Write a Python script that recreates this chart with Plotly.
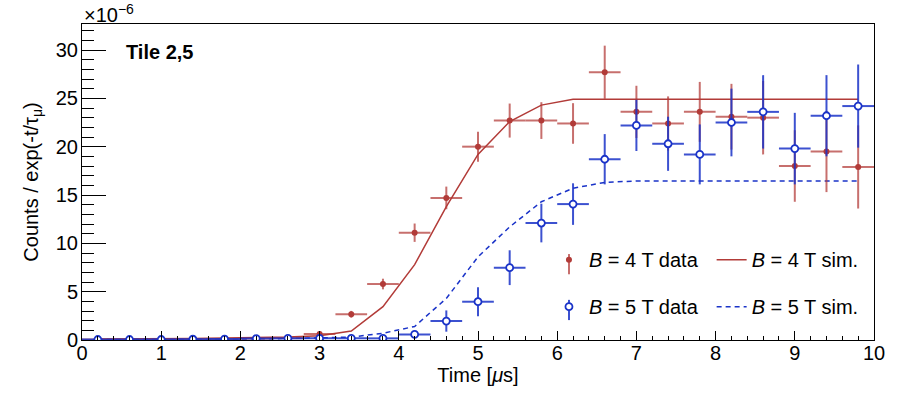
import plotly.graph_objects as go

# ---- data ----
time_centers = [0.2, 0.6, 1.0, 1.4, 1.8, 2.2, 2.6, 3.0, 3.4, 3.8, 4.2, 4.6, 5.0,
                5.4, 5.8, 6.2, 6.6, 7.0, 7.4, 7.8, 8.2, 8.6, 9.0, 9.4, 9.8]
bin_half_width = [0.2] * len(time_centers)

data_4T = [0.05, 0.05, 0.05, 0.08, 0.10, 0.15, 0.20, 0.62, 2.66, 5.79, 11.1, 14.7, 20.0,
           22.7, 22.7, 22.4, 27.7, 23.6, 22.4, 23.6, 23.1, 23.0, 18.0, 19.5, 17.9]
err_4T = [0.05, 0.05, 0.05, 0.06, 0.07, 0.08, 0.10, 0.30, 0.35, 0.55, 0.95, 1.17, 1.55,
          1.76, 1.90, 2.10, 2.75, 2.70, 2.80, 3.10, 3.40, 3.80, 3.70, 4.20, 4.30]

data_5T = [0.05, 0.05, 0.05, 0.08, 0.10, 0.15, 0.17, 0.17, 0.17, 0.17, 0.58, 1.96, 3.96,
           7.48, 12.1, 14.06, 18.7, 22.2, 20.3, 19.2, 22.5, 23.6, 19.8, 23.2, 24.2]
err_5T = [0.05, 0.05, 0.05, 0.06, 0.07, 0.08, 0.10, 0.12, 0.15, 0.20, 0.30, 1.10, 1.50,
          1.80, 2.00, 2.15, 2.60, 2.65, 2.80, 3.10, 3.50, 3.80, 3.70, 4.20, 4.30]

sim_4T = [0.10, 0.10, 0.12, 0.15, 0.20, 0.25, 0.30, 0.45, 0.93, 3.45, 7.8, 13.8, 19.2,
          22.6, 24.3, 24.9, 24.9, 24.9, 24.9, 24.9, 24.9, 24.9, 24.9, 24.9, 24.9]
sim_5T = [0.05, 0.05, 0.06, 0.08, 0.10, 0.12, 0.15, 0.20, 0.30, 0.70, 1.40, 4.30, 8.60,
          11.7, 14.3, 15.7, 16.3, 16.45, 16.45, 16.45, 16.45, 16.45, 16.45, 16.45, 16.45]

x_ticks = [0, 1, 2, 3, 4, 5, 6, 7, 8, 9, 10]
y_ticks = [0, 5, 10, 15, 20, 25, 30]

RED = "#b23b38"
RED_ERR = "rgba(178,55,52,0.72)"
BLUE = "#1a33c8"
BLUE_ERR = "rgba(26,51,200,0.85)"
FONT = "Liberation Sans, Arial, sans-serif"

fig = go.Figure()

fig.add_trace(go.Scatter(
    x=time_centers, y=sim_4T, mode="lines", name="<i>B</i> = 4 T sim.",
    line=dict(color=RED, width=1.5), legend="legend2", legendgroup="s4"))
fig.add_trace(go.Scatter(
    x=time_centers, y=sim_5T, mode="lines", name="<i>B</i> = 5 T sim.",
    line=dict(color=BLUE, width=1.5, dash="5px,4px"), legend="legend2", legendgroup="s5"))

fig.add_trace(go.Scatter(
    x=time_centers, y=data_4T, mode="markers", name="<i>B</i> = 4 T data",
    marker=dict(color=RED, size=6, symbol="circle"),
    error_x=dict(type="data", array=bin_half_width, color=RED_ERR, thickness=2, width=0),
    error_y=dict(type="data", array=err_4T, color=RED_ERR, thickness=2, width=0),
    legend="legend", legendgroup="d4"))
fig.add_trace(go.Scatter(
    x=time_centers, y=data_5T, mode="markers", name="<i>B</i> = 5 T data",
    marker=dict(color="white", size=7, symbol="circle", line=dict(color=BLUE, width=1.8)),
    error_x=dict(type="data", array=bin_half_width, color=BLUE_ERR, thickness=2, width=0),
    error_y=dict(type="data", array=err_5T, color=BLUE_ERR, thickness=2, width=0),
    legend="legend", legendgroup="d5"))

axis_common = dict(
    showline=True, linecolor="black", linewidth=1, mirror=True, automargin=False,
    showgrid=False, zeroline=False, ticks="inside", tickcolor="black",
    tickfont=dict(family=FONT, size=20, color="black"),
)

fig.update_xaxes(
    **axis_common, range=[0, 10], tickvals=x_ticks, ticklen=9, tickwidth=1,
    ticklabelstandoff=-5,
    minor=dict(dtick=0.2, tick0=0, ticklen=4.5, ticks="inside", tickcolor="black", tickwidth=1),
    title=dict(text="Time [<i>μ</i>s]", font=dict(family=FONT, size=20, color="black"), standoff=3),
)
fig.update_yaxes(
    **axis_common, range=[0, 32.69], tickvals=y_ticks, ticklen=24, tickwidth=1,
    ticklabelstandoff=-1,
    minor=dict(dtick=1, tick0=0, ticklen=12, ticks="inside", tickcolor="black", tickwidth=1),
    title=dict(text="Counts / exp(-t/τ<sub>μ</sub>)", font=dict(family=FONT, size=20, color="black"),
               standoff=11),
)

legend_common = dict(
    font=dict(family=FONT, size=20, color="black"), bgcolor="rgba(0,0,0,0)",
    borderwidth=0, tracegroupgap=18, xanchor="left", yanchor="top",
)

# vertical error-bar strokes for the data legend symbols (legend decoration)
legend_shapes = [
    dict(type="line", xref="paper", yref="paper", x0=0.6149, x1=0.6149, y0=0.208, y1=0.272,
         line=dict(color=RED_ERR, width=2), layer="below"),
    dict(type="line", xref="paper", yref="paper", x0=0.6149, x1=0.6149, y0=0.063, y1=0.127,
         line=dict(color=BLUE_ERR, width=2), layer="below"),
]

fig.update_layout(
    width=921, height=395,
    margin=dict(l=82, r=47, t=24, b=55),
    paper_bgcolor="white", plot_bgcolor="white",
    showlegend=True,
    legend=dict(**legend_common, x=0.5896, y=0.316),
    legend2=dict(**legend_common, x=0.795, y=0.316),
    shapes=legend_shapes,
    annotations=[
        dict(text="<b>Tile 2,5</b>", xref="paper", yref="paper", x=0.053, y=0.91,
             xanchor="left", yanchor="middle", showarrow=False,
             font=dict(family=FONT, size=20, color="black")),
        dict(text="×10<sup>−6</sup>", xref="paper", yref="paper", x=0.0, y=1.0,
             xanchor="left", yanchor="bottom", showarrow=False, yshift=-4,
             font=dict(family=FONT, size=20, color="black")),
    ],
)

fig.write_html("out.html", config={"displayModeBar": False})

# remove the browser's default page margin so the figure sits at the window origin
with open("out.html", "r", encoding="utf-8") as f:
    html = f.read()
html = html.replace("<head>", "<head><style>html,body{margin:0;padding:0;}</style>", 1)
with open("out.html", "w", encoding="utf-8") as f:
    f.write(html)
